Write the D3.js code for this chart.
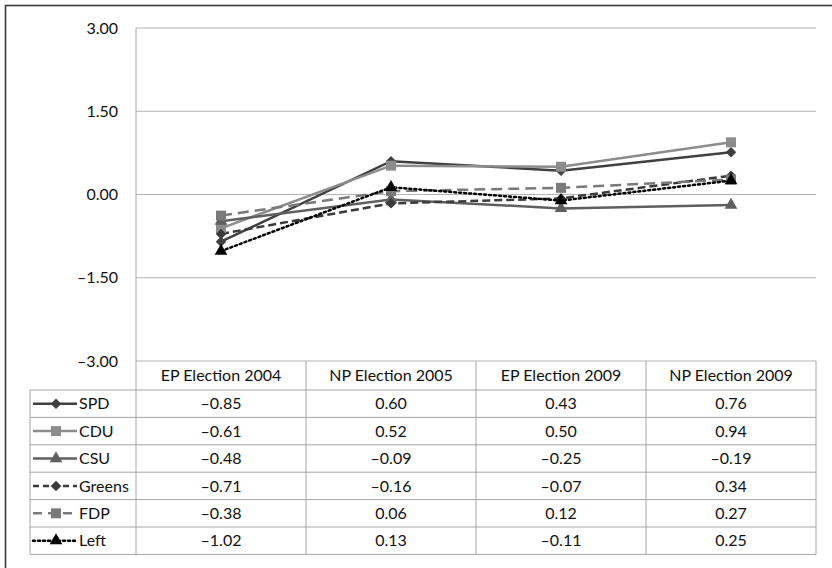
<!DOCTYPE html>
<html>
<head>
<meta charset="utf-8">
<script src="https://cdn.jsdelivr.net/npm/d3@7"></script>
<style>
  body { margin: 0; background: #fff; }
  svg { display: block; font-family: Lato, "Open Sans", sans-serif; }
</style>
</head>
<body>
<div id="chart"></div>
<script>
const categories = ["EP Election 2004", "NP Election 2005", "EP Election 2009", "NP Election 2009"];
const parties = ["SPD", "CDU", "CSU", "Greens", "FDP", "Left"];
const spdValues = [-0.85, 0.60, 0.43, 0.76];
const cduValues = [-0.61, 0.52, 0.50, 0.94];
const csuValues = [-0.48, -0.09, -0.25, -0.19];
const greensValues = [-0.71, -0.16, -0.07, 0.34];
const fdpValues = [-0.38, 0.06, 0.12, 0.27];
const leftValues = [-1.02, 0.13, -0.11, 0.25];
const yTicks = [3, 1.5, 0, -1.5, -3];

// diamonds are squares turned 45 degrees, as in the spreadsheet original
const styles = {
  SPD:    { color: "#404040", dash: null,  keyDash: null,  symbol: d3.symbolSquare, size: 55, rot: 45 },
  CDU:    { color: "#8c8c8c", dash: null,  keyDash: null,  symbol: d3.symbolSquare, size: 100, rot: 0 },
  CSU:    { color: "#5f5f5f", dash: null,  keyDash: null,  symbol: d3.symbolTriangle, size: 70, rot: 0 },
  Greens: { color: "#3a3a3a", dash: "8,4", keyDash: "6,4", symbol: d3.symbolSquare, size: 55, rot: 45 },
  FDP:    { color: "#7a7a7a", dash: "11,6", keyDash: "9,6", symbol: d3.symbolSquare, size: 100, rot: 0 },
  Left:   { color: "#000000", dash: "2,3", keyDash: "2,3", symbol: d3.symbolTriangle, size: 70, rot: 0 }
};

const series = [spdValues, cduValues, csuValues, greensValues, fdpValues, leftValues]
  .map((values, i) => ({ name: parties[i], values, ...styles[parties[i]] }));

const W = 832, H = 568;
const plot = { left: 136, right: 816, top: 28, bottom: 361 };
const headerH = 29, rowH = 27.4, legendLeft = 30;
const fontSize = 16;

const svg = d3.select("#chart").append("svg")
  .attr("width", W).attr("height", H);

// outer frame (right/bottom fall outside the picture)
svg.append("rect")
  .attr("x", 5.5).attr("y", 5.5).attr("width", 840).attr("height", 580)
  .attr("fill", "none").attr("stroke", "#3a3a3a").attr("stroke-width", 1.6);

const x = d3.scaleBand().domain(categories).range([plot.left, plot.right]);
const y = d3.scaleLinear().domain([-3, 3]).range([plot.bottom, plot.top]);
const fmt = v => (v < 0 ? "\u2013" : "") + d3.format(".2f")(Math.abs(v));

// gridlines
svg.append("g").selectAll("line")
  .data(yTicks)
  .join("line")
  .attr("x1", plot.left).attr("x2", plot.right)
  .attr("y1", d => y(d)).attr("y2", d => y(d))
  .attr("stroke", "#b3b3b3").attr("stroke-width", 1);

// y tick labels
svg.append("g").selectAll("text")
  .data(yTicks)
  .join("text")
  .attr("x", 118).attr("y", d => y(d))
  .attr("dy", "0.35em")
  .attr("text-anchor", "end")
  .attr("font-size", fontSize)
  .attr("fill", "#111")
  .text(fmt);

// table rows
const tableTop = plot.bottom;
const rowY = i => tableTop + headerH + i * rowH;
const tableBottom = rowY(parties.length);
const grid = svg.append("g").attr("stroke", "#a6a6a6").attr("stroke-width", 1);

grid.selectAll(".hline")
  .data(d3.range(parties.length + 1))
  .join("line")
  .attr("x1", legendLeft).attr("x2", plot.right)
  .attr("y1", d => rowY(d)).attr("y2", d => rowY(d));

grid.selectAll(".vline")
  .data(categories.concat([null]))
  .join("line")
  .attr("x1", (d, i) => plot.left + i * x.bandwidth())
  .attr("x2", (d, i) => plot.left + i * x.bandwidth())
  .attr("y1", (d, i) => i === 0 ? plot.top : tableTop)
  .attr("y2", tableBottom);

grid.append("line")
  .attr("x1", legendLeft).attr("x2", legendLeft)
  .attr("y1", rowY(0)).attr("y2", tableBottom);

// header labels
svg.append("g").selectAll("text")
  .data(categories)
  .join("text")
  .attr("x", d => x(d) + x.bandwidth() / 2)
  .attr("y", tableTop + headerH / 2)
  .attr("dy", "0.35em")
  .attr("text-anchor", "middle")
  .attr("font-size", fontSize)
  .attr("fill", "#111")
  .text(d => d);

// value cells
series.forEach((s, r) => {
  svg.append("g").selectAll("text")
    .data(s.values)
    .join("text")
    .attr("x", (d, i) => x(categories[i]) + x.bandwidth() / 2)
    .attr("y", rowY(r) + rowH / 2)
    .attr("dy", "0.35em")
    .attr("text-anchor", "middle")
    .attr("font-size", fontSize)
    .attr("fill", "#111")
    .text(fmt);
});

// legend keys in table
series.forEach((s, r) => {
  const cy = rowY(r) + rowH / 2;
  const g = svg.append("g");
  g.append("line")
    .attr("x1", 33).attr("x2", 77).attr("y1", cy).attr("y2", cy)
    .attr("stroke", s.color).attr("stroke-width", 2.5)
    .attr("stroke-dasharray", s.keyDash)
    .attr("stroke-linecap", s.name === "Left" ? "round" : "butt");
  g.append("path")
    .attr("d", d3.symbol(s.symbol, s.size)())
    .attr("transform", `translate(56,${cy}) rotate(${s.rot})`)
    .attr("fill", s.color);
  g.append("text")
    .attr("x", 79).attr("y", cy).attr("dy", "0.35em")
    .attr("font-size", fontSize).attr("fill", "#111")
    .text(s.name);
});

// lines and markers
const line = d3.line()
  .x((d, i) => x(categories[i]) + x.bandwidth() / 2)
  .y(d => y(d));

series.forEach(s => {
  svg.append("path")
    .datum(s.values)
    .attr("d", line)
    .attr("fill", "none")
    .attr("stroke", s.color)
    .attr("stroke-width", 2.5)
    .attr("stroke-dasharray", s.dash)
    .attr("stroke-linecap", s.name === "Left" ? "round" : "butt");
});

series.forEach(s => {
  svg.append("g").selectAll("path")
    .data(s.values)
    .join("path")
    .attr("d", d3.symbol(s.symbol, s.size))
    .attr("transform", (d, i) => `translate(${x(categories[i]) + x.bandwidth() / 2},${y(d)}) rotate(${s.rot})`)
    .attr("fill", s.color);
});
</script>
</body>
</html>
